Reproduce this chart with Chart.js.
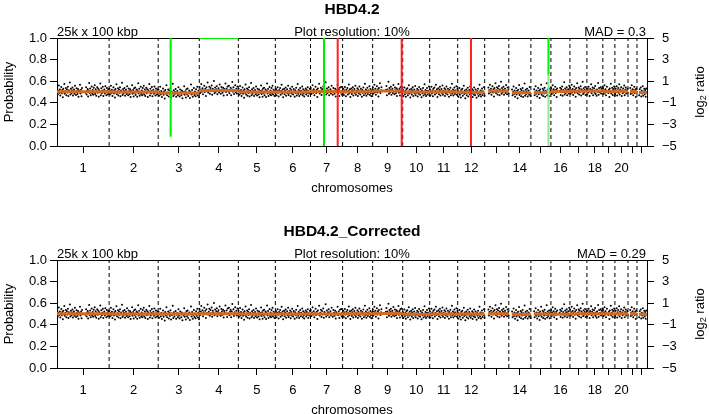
<!DOCTYPE html>
<html><head><meta charset="utf-8">
<script src="https://cdn.jsdelivr.net/npm/chart.js@4.4.1/dist/chart.umd.min.js"></script>
<style>
html,body{margin:0;padding:0;background:#fff;overflow:hidden;width:709px;height:414px}
canvas{position:absolute;left:0}
#c1{top:0}#c2{top:222px}
</style></head><body>
<canvas id="c1" width="709" height="222"></canvas>
<canvas id="c2" width="709" height="222"></canvas>
<script>
// ---------------- data ----------------
const chromNames = ['1','2','3','4','5','6','7','8','9','10','11','12','13','14','15','16','17','18','19','20','21','22'];
const xTickLabels = ['1','2','3','4','5','6','7','8','9','10','11','12','','14','','16','','18','','20','',''];
const chromSizesMb = [255,240,201,191,181,172,157,147,147,132,137,132,118,108,98,93,83,78,59,64,44,49];
const probTicks = [0,0.2,0.4,0.6,0.8,1.0];
const log2Ticks = [-5,-4,-3,-2,-1,0,1,2,3,4,5];

// bin values (probability x 1000), one list per chromosome, null = no data
const binValues = [
[534,478,512,561,491,523,467,505,546,488,519,452,531,498,575,483,509,537,471,526,495,548,463,517,502,589,476,530,489,514,541,468,506,523,484,557,497,472,535,510,482,528,456,515,499,566,487,521,461,538,null,null,null,null,null,null,493,545,476,509,527,458,514,583,490,532,469,504,551,485,518,474,539,496,562,481,525,465,508,543,492,529,457,516,501,578,470,534,488,512,549,463,507,524,486,553,498,471,536,511,479,526,494],
[531,476,509,558,488,520,464,502,543,485,516,449,528,495,572,480,506,534,468,523,492,545,460,514,499,586,473,527,486,511,538,465,503,520,481,554,494,469,532,507,479,525,453,512,496,563,484,518,458,535,490,542,473,506,524,455,511,580,487,529,466,501,548,482,515,471,536,493,559,478,522,462,505,540,489,526,454,513,498,575,467,531,485,509,546,460,504,521,483,550,495,468,533,508,476,523,491],
[521,466,499,548,478,510,454,492,533,475,506,439,518,485,562,470,496,524,458,513,482,535,450,504,489,576,463,517,476,501,528,455,493,510,471,544,484,459,522,497,469,515,443,502,486,553,474,508,448,525,480,532,463,496,514,445,501,570,477,519,456,491,538,472,505,461,526,483,549,468,512,452],
[546,491,524,573,503,535,479,517,558,500,531,464,543,510,587,495,521,549,483,538,507,560,475,529,514,601,488,542,501,526,553,480,518,535,496,569,509,484,547,522,494,540,468,527,511,578,499,533,473,550,505,557,488,521,539,470,526,592,502,544,481,516,563,497,530,486,551,508],
[529,474,507,556,486,518,462,500,541,483,514,447,526,493,570,478,504,532,466,521,490,543,458,512,497,584,471,525,484,509,536,463,501,518,479,552,492,467,530,505,477,523,451,510,494,561,482,516,456,533,488,540,471,504,522,453,509,578,485,527,464,499,546,480,513,469,537,491,558,476,520,497,463,511],
[488,527,470,512,545,493,459,518,501,536,474,509,568,486,523,452,497,531,480,514,541,466,503,525,489,557,472,510,494,533,461,519,485,548,498,476,528,506,455,516,490,539,468,502,574,483,521,464,509,537,479,512,496,551,471,526,487,458,515,503,532,477,519,491,544,462,508,485,529,497],
[536,481,514,563,493,525,469,507,548,490,521,454,533,500,577,485,511,539,473,528,497,550,465,519,504,591,478,532,491,516,543,470,508,525,486,559,499,474,537,512,484,530,458,517,501,568,489,523,463,540,495,547,478,511],
[490,529,472,514,547,495,461,520,503,538,476,511,570,488,525,454,499,533,482,516,543,468,505,527,491,559,474,512,496,535,463,521,487,550,500,478,530,508,457,518,492,541,470,504,576,485,523,466,511,539,481,514,498,553,473,528,489,460,517,506],
[541,486,519,568,498,530,474,512,553,495,526,459,538,505,582,490,516,544,null,null,null,null,null,null,null,null,521,555,470,524,509,596,483,537,496,521,548,475,513,530,491,564,504,479,542,517,489,535,463,522,506,573,494,528,468,545,500,552,483,515],
[517,462,498,541,480,509,455,526,493,534,471,505,562,487,520,448,496,529,476,513,544,464,502,523,486,556,470,508,492,531,458,518,483,547,497,474,527,504,452,515,489,536,467,501,571,482,519,463,510,538,478,511,495,550,470],
[524,468,505,549,485,514,460,530,497,541,476,510,567,491,525,453,501,534,480,518,549,468,507,528,490,561,474,512,496,535,462,522,487,552,501,478,531,508,456,519,493,540,471,505,576,486,523,467,514,542,482,515,499,554,474,527],
[512,457,493,536,475,504,450,521,488,529,466,500,557,482,515,443,491,524,471,508,539,459,497,518,481,551,465,503,487,526,453,513,478,542,492,469,522,499,447,510,484,531,462,496,566,477,514,458,505,533,473,506,490,545,465],
[null,null,null,null,null,null,null,541,486,519,568,498,530,474,512,553,495,526,459,538,505,582,490,516,544,477,533,502,555,470,524,509,596,483,537,496,521,548,475,513,530,491,564,504,479,542,517,489],
[null,null,null,null,null,null,524,469,502,551,481,513,457,495,536,478,509,442,521,488,565,473,499,527,461,516,485,538,453,507,492,579,466,520,479,504,531,458,496,513,474,547,487,462],
[null,null,null,null,null,null,526,471,504,553,483,515,459,497,538,480,511,444,523,490,567,475,501,529,463,518,487,540,455,509,494,581,468,522,481,506,533,460,498,515],
[536,481,514,563,493,525,469,507,548,490,521,454,533,500,null,null,null,511,539,473,528,497,550,465,519,504,591,478,532,491,516,543,470,508,525,486,559,499],
[539,484,517,566,496,528,472,510,551,493,524,457,536,503,580,488,514,542,476,531,500,553,468,522,507,594,481,535,494,519,546,473,511,528],
[478,531,496,549,513,462,527,505,571,488,520,541,470,509,534,493,556,481,515,466,524,502,583,474,537,498,512,545,486,529,507,551],
[536,481,514,563,493,525,469,507,548,null,null,490,521,454,533,500,577,485,511,539,473,528,497,550,465],
[482,529,501,553,468,516,538,494,571,476,523,507,545,462,513,489,532,499,560,471,518,541,486,509,527,495],
[null,null,null,null,536,481,514,563,493,525,469,507,548,490,521,454,533,500],
[null,null,null,null,471,526,498,541,459,512,487,553,466,504,529,480,518,455,532,493]
];

// segment means per chromosome (probability)
const segMeanTop    = [0.503,0.500,0.490,0.515,0.500,0.500,0.505,0.502,0.510,0.500,0.502,0.498,0.510,0.493,0.495,0.505,0.508,0.510,0.505,0.508,0.505,0.495];
const segMeanBottom = [0.502,0.500,0.500,0.502,0.500,0.500,0.500,0.503,0.505,0.498,0.500,0.500,0.503,0.498,0.500,0.497,0.503,0.502,0.503,0.503,0.502,0.498];

// event lines (top panel): chromosome, position within chromosome (Mb), probability range
const greenLineChr  = [3, 7, 15];
const greenLinePos  = [61, 66, 86];
const greenLineLow  = [0.085, 0, 0.66];
const greenLineHigh = [1, 1, 1];
const paleGreenChr  = [15];
const paleGreenPos  = [86];
const paleGreenLow  = [0];
const paleGreenHigh = [0.66];
const redLineChr    = [7, 9, 12];
const redLinePos    = [133, 142, 65];
const greenTopChr   = [4];   // horizontal mark at probability 1 over whole chromosome

// ---------------- build ----------------
const FONT = "'Liberation Sans', Arial, Helvetica, sans-serif";
Chart.defaults.font.family = FONT;
Chart.defaults.font.size = 13;
Chart.defaults.color = '#000';

const chromStart = [];
let acc = 0;
chromSizesMb.forEach(s => { chromStart.push(acc); acc += s; });
const genomeTotal = acc;
const chromCenter = chromSizesMb.map((s, i) => chromStart[i] + s / 2);

function pointsData() {
  const out = [];
  binValues.forEach((arr, c) => {
    const n = arr.length, w = chromSizesMb[c] / n;
    arr.forEach((v, j) => { if (v !== null) out.push({x: chromStart[c] + (j + 0.5) * w, y: v / 1000}); });
  });
  return out;
}
function segData(means) {
  const out = [];
  binValues.forEach((arr, c) => {
    const n = arr.length, w = chromSizesMb[c] / n;
    let j0 = arr.findIndex(v => v !== null);
    let j1 = n - 1; while (arr[j1] === null) j1--;
    const x0 = chromStart[c] + j0 * w, x1 = chromStart[c] + (j1 + 1) * w;
    out.push({x: x0, y: means[c]}, {x: x1, y: means[c]}, {x: x1, y: null});
  });
  return out;
}
function boundaryData() {
  const out = [];
  for (let c = 1; c < chromSizesMb.length; c++) {
    out.push({x: chromStart[c], y: 0}, {x: chromStart[c], y: 1}, {x: chromStart[c], y: null});
  }
  return out;
}
function vertData(chrs, pos, lo, hi) {
  const out = [];
  chrs.forEach((c, i) => {
    const x = chromStart[c - 1] + pos[i];
    out.push({x, y: lo[i]}, {x, y: hi[i]}, {x, y: null});
  });
  return out;
}
function topBandData(chrs) {
  const out = [];
  chrs.forEach(c => {
    out.push({x: chromStart[c - 1], y: 1}, {x: chromStart[c - 1] + chromSizesMb[c - 1], y: 1}, {x: 0, y: null});
  });
  return out;
}

function lineDs(data, color, width, dash) {
  return {type: 'line', data, borderColor: color, borderWidth: width, borderDash: dash || [],
          pointRadius: 0, spanGaps: false, fill: false, tension: 0};
}

function makeChart(id, title, mad, means, withEvents) {
  const datasets = [];
  if (withEvents) {
    datasets.push(lineDs(vertData(redLineChr, redLinePos, [0,0,0], [1,1,1]), '#ff2020', 2));
    datasets.push(lineDs(vertData(greenLineChr, greenLinePos, greenLineLow, greenLineHigh), '#00ee00', 2));
    datasets.push(lineDs(vertData(paleGreenChr, paleGreenPos, paleGreenLow, paleGreenHigh), '#8fe88f', 2));
    datasets.push(lineDs(topBandData(greenTopChr), '#00ee00', 2));
  }
  datasets.push(lineDs(segData(means), '#d2691e', 3));
  datasets.push({type: 'scatter', data: pointsData(), pointRadius: 1, pointBorderWidth: 0,
                 pointBackgroundColor: '#000', showLine: false});
  datasets.push(lineDs(boundaryData(), '#000', 1, [4, 3]));

  const textPlugin = {
    id: 'panelText',
    beforeDatasetsDraw(chart) {
      const ctx = chart.ctx, a = chart.chartArea;
      ctx.save();
      ctx.strokeStyle = '#000'; ctx.lineWidth = 1;
      ctx.beginPath(); ctx.moveTo(a.left, Math.round(a.top) + 0.5); ctx.lineTo(a.right, Math.round(a.top) + 0.5); ctx.stroke();
      ctx.restore();
    },
    afterDraw(chart) {
      const ctx = chart.ctx, a = chart.chartArea;
      const cx = (a.left + a.right) / 2, cy = (a.top + a.bottom) / 2;
      ctx.save();
      ctx.fillStyle = '#000';
      ctx.textBaseline = 'alphabetic';
      ctx.font = 'bold 15.5px ' + FONT; ctx.textAlign = 'center';
      ctx.fillText(title, cx, 13.5);
      ctx.font = '13px ' + FONT;
      ctx.textAlign = 'left'; ctx.fillText('25k x 100 kbp', a.left, 35.5);
      ctx.textAlign = 'center'; ctx.fillText('Plot resolution: 10%', cx, 35.5);
      ctx.textAlign = 'right'; ctx.fillText('MAD = ' + mad, a.right - 1, 35.5);
      ctx.textAlign = 'center'; ctx.textBaseline = 'middle';
      ctx.fillText('chromosomes', cx, 188.5);
      ctx.save(); ctx.translate(9, cy); ctx.rotate(-Math.PI / 2);
      ctx.fillText('Probability', 0, 0); ctx.restore();
      ctx.save(); ctx.translate(700, cy); ctx.rotate(-Math.PI / 2);
      ctx.textAlign = 'left';
      ctx.font = '13px ' + FONT; const w1 = ctx.measureText('log').width, w3 = ctx.measureText(' ratio').width;
      ctx.font = '9px ' + FONT; const w2 = ctx.measureText('2').width;
      let x = -(w1 + w2 + w3) / 2;
      ctx.font = '13px ' + FONT; ctx.fillText('log', x, 0); x += w1;
      ctx.font = '9px ' + FONT; ctx.fillText('2', x, 4); x += w2;
      ctx.font = '13px ' + FONT; ctx.fillText(' ratio', x, 0);
      ctx.restore();
      ctx.restore();
    }
  };

  const gridOpts = {display: true, drawOnChartArea: false, drawTicks: true, tickLength: 7, color: '#000', tickColor: '#000', lineWidth: 1};
  const borderOpts = {display: true, color: '#000', width: 1};

  return new Chart(document.getElementById(id), {
    type: 'scatter',
    data: {datasets},
    options: {
      responsive: false, animation: false, devicePixelRatio: 1,
      layout: {padding: {top: 38, left: 0, right: 0, bottom: 0}},
      plugins: {legend: {display: false}, tooltip: {enabled: false}, title: {display: false}},
      scales: {
        x: {type: 'linear', position: 'bottom', min: 0, max: genomeTotal,
            grid: gridOpts, border: borderOpts,
            afterBuildTicks: s => { s.ticks = chromCenter.map(v => ({value: v})); },
            afterFit: s => { s.height = 76; },
            ticks: {autoSkip: false, maxRotation: 0, minRotation: 0, padding: 8, font: {size: 13},
                    callback: (v, i) => xTickLabels[i]}},
        y: {type: 'linear', position: 'left', min: 0, max: 1,
            grid: gridOpts, border: borderOpts,
            afterBuildTicks: s => { s.ticks = probTicks.map(v => ({value: v})); },
            afterFit: s => { s.width = 57; },
            ticks: {padding: 3, font: {size: 13}, callback: v => Number(v).toFixed(1)}},
        y2: {type: 'linear', position: 'right', min: -5, max: 5,
            grid: gridOpts, border: borderOpts,
            afterBuildTicks: s => { s.ticks = log2Ticks.map(v => ({value: v})); },
            afterFit: s => { s.width = 62; },
            ticks: {padding: 8, font: {size: 13},
                    callback: v => (Math.abs(v) % 2 === 1 ? (v < 0 ? '\u2212' + Math.abs(v) : String(v)) : '')}}
      }
    },
    plugins: [textPlugin]
  });
}

makeChart('c1', 'HBD4.2', '0.3', segMeanTop, true);
makeChart('c2', 'HBD4.2_Corrected', '0.29', segMeanBottom, false);
</script>
</body></html>
